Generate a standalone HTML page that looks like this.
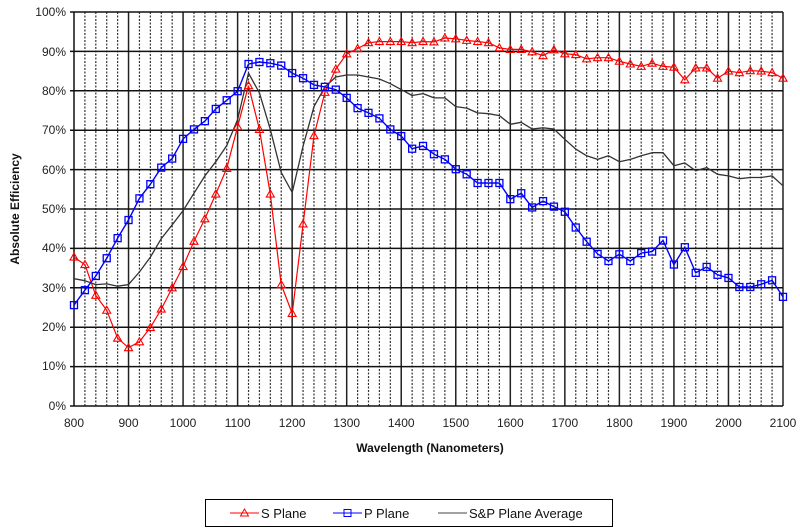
<!DOCTYPE html>
<html><head><meta charset="utf-8"><style>
html,body{margin:0;padding:0;background:#fff;width:800px;height:531px;overflow:hidden}
svg{display:block;font-family:"Liberation Sans",Arial,sans-serif}
</style></head><body>
<svg id="s" width="800" height="531" viewBox="0 0 800 531">
<g id="grid"></g>
<g font-size="12" fill="#222" text-anchor="end">
<text x="66" y="16">100%</text><text x="66" y="56">90%</text><text x="66" y="95">80%</text><text x="66" y="134">70%</text><text x="66" y="174">60%</text><text x="66" y="213">50%</text><text x="66" y="252">40%</text><text x="66" y="292">30%</text><text x="66" y="331">20%</text><text x="66" y="370">10%</text><text x="66" y="410">0%</text>
</g>
<g font-size="12" fill="#222" text-anchor="middle">
<text x="74" y="427">800</text><text x="128.5" y="427">900</text><text x="183" y="427">1000</text><text x="237.6" y="427">1100</text><text x="292.1" y="427">1200</text><text x="346.7" y="427">1300</text><text x="401.2" y="427">1400</text><text x="455.8" y="427">1500</text><text x="510.3" y="427">1600</text><text x="564.8" y="427">1700</text><text x="619.4" y="427">1800</text><text x="673.9" y="427">1900</text><text x="728.5" y="427">2000</text><text x="783" y="427">2100</text>
</g>
<text x="430" y="452" font-size="12" font-weight="bold" text-anchor="middle" fill="#111">Wavelength (Nanometers)</text>
<text transform="translate(19,209) rotate(-90)" font-size="12" font-weight="bold" text-anchor="middle" fill="#111">Absolute Efficiency</text>
<g id="data"></g>
<rect x="205.5" y="499.5" width="407" height="27" fill="none" stroke="#000" stroke-width="1"/>
<line x1="230" y1="513" x2="259" y2="513" stroke="#f00" stroke-width="1"/>
<polygon points="244.5,509 248.5,516 240.5,516" fill="none" stroke="#f00"/>
<text x="261" y="518" font-size="13" fill="#111">S Plane</text>
<line x1="333" y1="513" x2="362" y2="513" stroke="#00f" stroke-width="1"/>
<rect x="344" y="509.5" width="7" height="7" fill="none" stroke="#00f"/>
<text x="364" y="518" font-size="13" fill="#111">P Plane</text>
<line x1="438" y1="513" x2="467" y2="513" stroke="#444" stroke-width="1"/>
<text x="469" y="518" font-size="13" fill="#111">S&amp;P Plane Average</text>
</svg>
<script>
var X=function(l){return 74+(l-800)*709/1300},Y=function(v){return 406-v*3.94};
var ns="http://www.w3.org/2000/svg",g=document.getElementById('grid'),d=document.getElementById('data');
function el(p,t,a){var e=document.createElementNS(ns,t);for(var k in a)e.setAttribute(k,a[k]);p.appendChild(e);return e}
for(var l=820;l<=2100;l+=20){var x=X(l);if(l%100==0)el(g,'line',{x1:x,y1:12,x2:x,y2:406,stroke:'#222','stroke-width':1.5});else el(g,'line',{x1:x,y1:12,x2:x,y2:406,stroke:'#333','stroke-width':1.2,'stroke-dasharray':'2,1.5'});}
for(var v=0;v<=100;v+=10){var y=Y(v);el(g,'line',{x1:70,y1:y,x2:783,y2:y,stroke:'#111','stroke-width':1.5});}
el(g,'line',{x1:74,y1:12,x2:74,y2:406,stroke:'#111','stroke-width':1.5});
var S=[37.8,35.9,28.1,24.3,17.2,14.8,16.3,19.9,24.6,30,35.4,41.8,47.5,53.8,60.3,70.9,81.3,70.2,53.8,30.8,23.5,46.2,68.6,79.6,85.5,89.4,90.7,92.2,92.5,92.5,92.5,92.2,92.5,92.4,93.4,93.2,92.8,92.5,92.2,90.9,90.5,90.5,89.9,88.9,90.4,89.4,89.2,88.1,88.4,88.4,87.5,86.8,86.2,87,86.2,86,82.8,85.8,85.8,83.2,85,84.6,85.1,85,84.6,83.2];
var P=[25.6,29.4,33,37.5,42.6,47.2,52.7,56.3,60.5,62.8,67.8,70.2,72.3,75.4,77.6,79.9,86.8,87.3,87,86.4,84.5,83.2,81.5,81,80.3,78.2,75.6,74.4,73,70.2,68.5,65.3,66,63.9,62.6,60.1,58.8,56.6,56.6,56.6,52.5,54,50.4,52,50.6,49.3,45.3,41.7,38.6,36.8,38.5,36.8,38.8,39.2,42,35.9,40.3,33.8,35.3,33.3,32.5,30.2,30.2,30.9,31.9,27.7];
var A=[32.3,31.8,30.8,31,30.4,30.8,34,37.8,42.5,46,49.6,54,58.4,62,66.1,72.7,84.5,79.5,70.2,59.3,54.2,66,76,81,83.5,84,84,83.5,83,81.8,80.3,78.8,79.3,78.2,78.2,76,75.6,74.4,74.2,73.7,71.5,72,70.3,70.6,70.3,67.7,65.2,63.5,62.6,63.5,62,62.6,63.5,64.3,64.3,61,61.7,59.7,60.5,58.8,58.4,57.7,58,58,58.4,55.9];
function pts(a){return a.map(function(v,i){return X(800+20*i).toFixed(1)+','+Y(v).toFixed(1)}).join(' ')}
el(d,'polyline',{points:pts(A),fill:'none',stroke:'#333','stroke-width':1.3,'stroke-linejoin':'round'});
el(d,'polyline',{points:pts(S),fill:'none',stroke:'#f00','stroke-width':1.2});
el(d,'polyline',{points:pts(P),fill:'none',stroke:'#00f','stroke-width':1.4});
S.forEach(function(v,i){var x=X(800+20*i),y=Y(v);el(d,'polygon',{points:x+','+(y-4)+' '+(x+4)+','+(y+3)+' '+(x-4)+','+(y+3),fill:'none',stroke:'#f00','stroke-width':1.1});});
P.forEach(function(v,i){var x=X(800+20*i),y=Y(v);el(d,'rect',{x:x-3.5,y:y-3.5,width:7,height:7,fill:'none',stroke:'#00f','stroke-width':1.3});});
</script>
</body></html>
